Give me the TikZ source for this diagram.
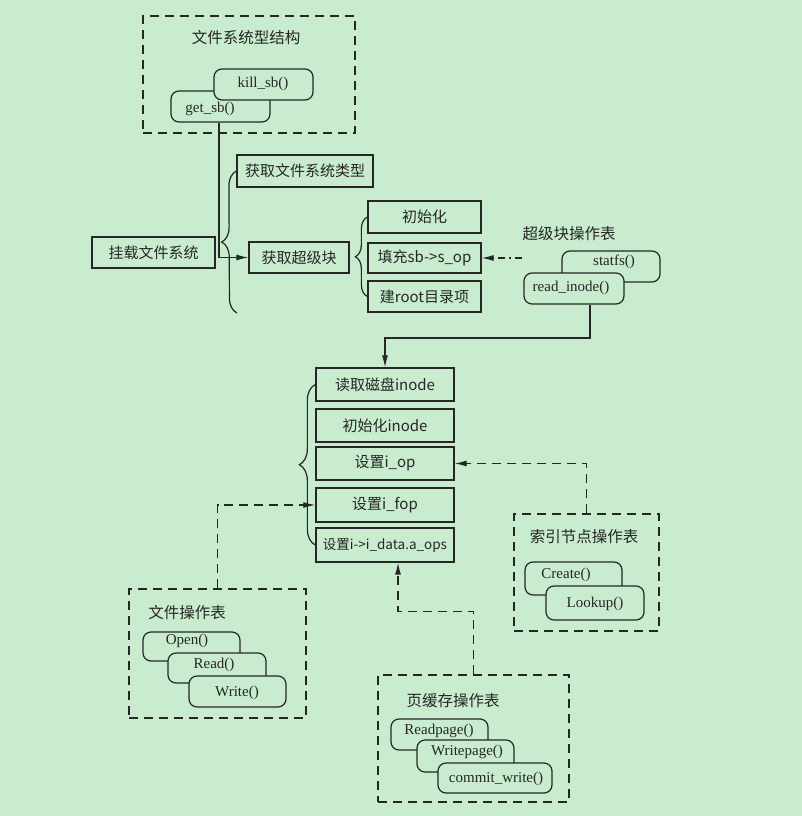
\documentclass[tikz,border=0pt]{standalone}
\usepackage{fontspec}
\setmainfont{Liberation Serif}
\newfontfamily\cjk{Noto Sans CJK SC}
\usetikzlibrary{arrows.meta,decorations.pathreplacing}

\definecolor{bggreen}{RGB}{200,236,205}
\definecolor{ink}{RGB}{38,38,38}

\tikzset{
  sq/.style={draw=ink, line width=1.3pt, inner sep=0pt, minimum height=32pt, font=\cjk\fontsize{15}{17}\selectfont},
  fn/.style={draw=ink, fill=bggreen, line width=1.2pt, rounded corners=8pt, inner sep=0pt},
  fntext/.style={inner sep=0pt, font=\fontsize{15}{17}\selectfont},
  title/.style={inner sep=0pt, font=\cjk\fontsize{15.5}{17}\selectfont},
  grp/.style={draw=ink, line width=1.2pt, dash pattern=on 9pt off 6pt, inner sep=0pt},
  arr/.style={draw=ink, line width=1.2pt, -{Latex[length=12pt,width=6pt]}},
  darr/.style={arr, dash pattern=on 9pt off 6pt},
  ddarr/.style={arr, dash pattern=on 7pt off 4pt on 2pt off 4pt},
  brc/.style={draw=ink, line width=1.2pt, decorate, decoration={brace, amplitude=#1}}
}

\begin{document}
\begin{tikzpicture}[x=1pt, y=-1pt, text=ink]
% background and page size
  \fill[bggreen] (0,0) rectangle (802,816);
  \useasboundingbox (0,0) rectangle (802,816);

% file system type structure
  \node (fsbox) [grp, minimum width=212pt, minimum height=117pt] at (249,74.5) {};
  \node (fsbox-t) [title] at (246,38) {文件系统型结构};
  \node (get) [fn, minimum width=99pt, minimum height=31pt] at (220.5,106.5) {};
  \node (get-t) [fntext] at (210,109) {get\_sb()};
  \node (kill) [fn, minimum width=99pt, minimum height=31pt] at (263.5,84.5) {};
  \node (kill-t) [fntext] at (263,84) {kill\_sb()};

% mount steps
  \node (mount) [sq, minimum width=123pt, minimum height=31pt] at (153.5,252.5) {挂载文件系统};
  \node (type) [sq, minimum width=136pt] at (305,171) {获取文件系统类型};
  \node (sb) [sq, minimum width=100pt, minimum height=31pt] at (299,257.5) {获取超级块};
  \coordinate (mb) at (237,313);

  \node (init) [sq, minimum width=113pt] at (424.5,217) {初始化};
  \node (fill) [sq, minimum width=113pt, minimum height=30pt] at (424.5,258) {填充sb->s\_op};
  \node (root) [sq, minimum width=113pt, minimum height=31pt] at (424.5,296.5) {建root目录项};

% super block operations
  \node (sbops-t) [title] at (569,234) {超级块操作表};
  \node (statfs) [fn, minimum width=98pt, minimum height=31pt] at (611,266.5) {};
  \node (statfs-t) [fntext] at (614,262) {statfs()};
  \node (rin) [fn, minimum width=100pt, minimum height=31pt] at (574,288.5) {};
  \node (rin-t) [fntext] at (571,288) {read\_inode()};
  \coordinate (sbops) at (522,258);
  \coordinate (bend) at (590,338);

% inode steps
  \node (rdisk) [sq, minimum width=138pt, minimum height=33pt] at (385,384.5) {读取磁盘inode};
  \node (iinit) [sq, minimum width=138pt, minimum height=33pt] at (385,425.5) {初始化inode};
  \node (iop) [sq, minimum width=138pt, minimum height=33pt] at (385,463.5) {设置i\_op};
  \node (ifop) [sq, minimum width=138pt, minimum height=34pt] at (385,505) {设置i\_fop};
  \node (aops) [sq, minimum width=138pt, minimum height=34pt, font=\cjk\fontsize{13.5}{16}\selectfont] at (385,545) {设置i->i\_data.a\_ops};

% inode operations
  \node (iopbox) [grp, minimum width=145pt, minimum height=117pt] at (586.5,572.5) {};
  \node (iopbox-t) [title] at (584,537) {索引节点操作表};
  \node (create) [fn, minimum width=97pt, minimum height=33pt] at (573.5,578.5) {};
  \node (create-t) [fntext] at (566,575) {Create()};
  \node (lookup) [fn, minimum width=98pt, minimum height=34pt] at (595,603) {};
  \node (lookup-t) [fntext] at (595,604) {Lookup()};

% file operations
  \node (fopbox) [grp, minimum width=177pt, minimum height=129pt] at (217.5,653.5) {};
  \node (fopbox-t) [title] at (187,613) {文件操作表};
  \node (open) [fn, minimum width=97pt, minimum height=29pt] at (191.5,646.5) {};
  \node (open-t) [fntext] at (187,641) {Open()};
  \node (read) [fn, minimum width=98pt, minimum height=30pt] at (217,668) {};
  \node (read-t) [fntext] at (214,665) {Read()};
  \node (write) [fn, minimum width=97pt, minimum height=31pt] at (237.5,691.5) {};
  \node (write-t) [fntext] at (237,693) {Write()};

% page cache operations
  \node (pcbox) [grp, minimum width=191pt, minimum height=127pt] at (473.5,738.5) {};
  \node (pcbox-t) [title] at (453,701) {页缓存操作表};
  \node (rpage) [fn, minimum width=97pt, minimum height=31pt] at (439.5,734.5) {};
  \node (rpage-t) [fntext] at (439,731) {Readpage()};
  \node (wpage) [fn, minimum width=97pt, minimum height=32pt] at (465.5,756) {};
  \node (wpage-t) [fntext] at (467,752) {Writepage()};
  \node (commit) [fn, minimum width=114pt, minimum height=30pt] at (495,778) {};
  \node (commit-t) [fntext] at (496,779) {commit\_write()};

% braces
  \draw[brc=15pt] (mb) -- (type.west);
  \draw[brc=12pt] (root.west) -- (init.west);
  \draw[brc=16pt] (aops.west) -- (rdisk.west);

% arrows
  \draw[arr] ([xshift=-1.5pt]get.south) |- (sb.west);
  \draw[ddarr] (sbops) -- (fill.east);
  \draw[arr] (rin.south -| bend) -- (bend) -| (rdisk.north);
  \draw[darr] (iopbox.north) |- (iop.east);
  \draw[darr] (fopbox.north) |- (ifop.west);
  \draw[darr] (pcbox.north) -- ++(0,-63) -| ([xshift=13pt]aops.south);

\end{tikzpicture}
\end{document}
